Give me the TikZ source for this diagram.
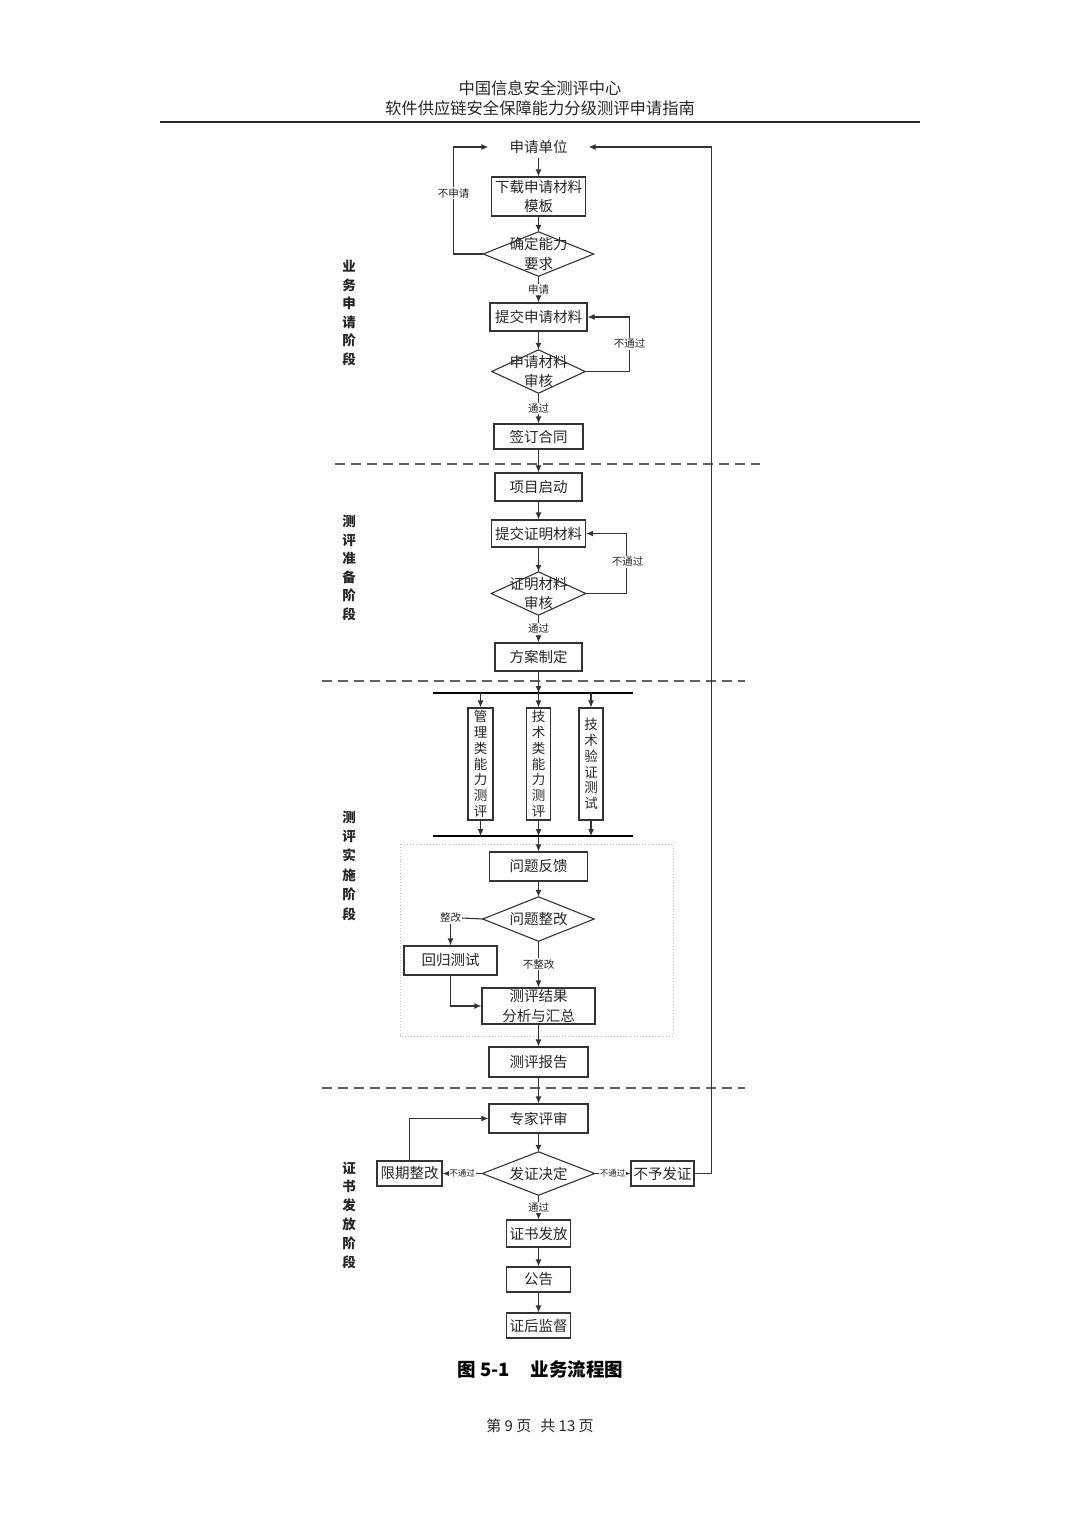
\documentclass[tikz,border=0pt]{standalone}
\usepackage{fontspec}
\setmainfont{Noto Sans CJK SC}
\usetikzlibrary{arrows.meta,calc}
\definecolor{linec}{HTML}{333333}
\definecolor{textc}{HTML}{262626}
\newcommand\flboxfont{\fontsize{14.5}{19.5}\selectfont}
\newcommand\flvfont{\fontsize{13.5}{15.8}\selectfont}
\newcommand\fllblfont{\fontsize{10.5}{12}\selectfont}
\newcommand\flsmallfont{\fontsize{8.5}{10}\selectfont}
\tikzset{
  flbox/.style={draw=linec, line width=1.1pt, inner sep=0pt, align=center, font=\flboxfont, text=textc},
  fldia/.style={inner sep=0pt, align=center, font=\flboxfont, text=textc},
  flvbox/.style={draw=linec, line width=1.1pt, inner sep=0pt, align=center, font=\flvfont, text=textc, minimum width=24pt, minimum height=112pt},
  flarr/.style={draw=linec, line width=1.1pt, -{Latex[length=7pt,width=6pt]}},
  flline/.style={draw=linec, line width=1.1pt},
  fllbl/.style={fill=white, inner sep=1pt, font=\fllblfont, text=textc},
  flsmall/.style={fill=white, inner sep=1pt, font=\flsmallfont, text=textc},
  flbar/.style={draw=black, line width=2.4pt},
  fldash/.style={draw=gray!75!black, line width=1.6pt, dash pattern=on 10pt off 6pt},
  flstage/.style={font=\fontsize{13.5}{18.5}\selectfont\bfseries, align=center, inner sep=0pt, text=textc},
}
\begin{document}
\begin{tikzpicture}[x=1pt,y=-1pt]
\fill[white] (0,0) rectangle (1080,1527);
\useasboundingbox (0,0) rectangle (1080,1527);

% header
\node[font=\fontsize{16.3}{18}\selectfont, text=textc] (h1) at (540,88) {中国信息安全测评中心};
\node[font=\fontsize{16.3}{18}\selectfont, text=textc] (h2) at (540,108) {软件供应链安全保障能力分级测评申请指南};
\draw[line width=1.5pt, black!85] (160,122) -- (920,122);

% stage labels
\node[flstage] (s1) at (349,313) {业\\务\\申\\请\\阶\\段};
\node[flstage] (s2) at (349,568) {测\\评\\准\\备\\阶\\段};
\node[flstage, font=\fontsize{13.5}{19.4}\selectfont\bfseries] (s3) at (349,865.5) {测\\评\\实\\施\\阶\\段};
\node[flstage, font=\fontsize{13.5}{18.8}\selectfont\bfseries] (s4) at (349,1215) {证\\书\\发\\放\\阶\\段};

% separators
\draw[fldash] (335,464) -- (760,464);
\draw[fldash] (322,681) -- (745,681);
\draw[fldash] (322,1088) -- (745,1088);

% stage 1
\node[fldia, minimum width=100pt, minimum height=22pt] (start) at (538.5,147) {申请单位};
\node[flbox, minimum width=94pt, minimum height=39pt] (b1) at (538.5,196.5) {下载申请材料\\模板};
\node[fldia, minimum width=110pt, minimum height=44pt] (d1) at (538.5,254) {确定能力\\要求};
\draw[flline] (d1.north) -- (d1.east) -- (d1.south) -- (d1.west) -- cycle;
\node[flbox, minimum width=97pt, minimum height=28pt] (b2) at (538.5,317) {提交申请材料};
\node[fldia, minimum width=93pt, minimum height=43pt] (d2) at (538.5,371.5) {申请材料\\审核};
\draw[flline] (d2.north) -- (d2.east) -- (d2.south) -- (d2.west) -- cycle;
\node[flbox, minimum width=89pt, minimum height=25pt] (b3) at (538.5,436.5) {签订合同};

\draw[flarr] (start.south) -- (b1.north);
\draw[flarr] (b1.south) -- (d1.north);
\draw[flarr] (d1.west) -- ++(-30,0) |- (start.west);
\node[fllbl] (l1) at (453.5,193) {不申请};
\draw[flarr] (d1.south) -- node[fllbl] (l2) {申请} (b2.north);
\draw[flarr] (b2.south) -- (d2.north);
\draw[flarr] (d2.east) -- ++(44,0) |- (b2.east);
\node[fllbl] (l3) at (629.5,344) {不通过};
\draw[flarr] (d2.south) -- node[fllbl] (l4) {通过} (b3.north);

% stage 2
\node[flbox, minimum width=87pt, minimum height=28pt] (b4) at (538.5,487) {项目启动};
\node[flbox, minimum width=94pt, minimum height=27pt] (b5) at (538.5,533.5) {提交证明材料};
\node[fldia, minimum width=94pt, minimum height=43pt] (d3) at (538.5,593.5) {证明材料\\审核};
\draw[flline] (d3.north) -- (d3.east) -- (d3.south) -- (d3.west) -- cycle;
\node[flbox, minimum width=87pt, minimum height=28pt] (b6) at (538.5,657) {方案制定};

\draw[flarr] (b3.south) -- (b4.north);
\draw[flarr] (b4.south) -- (b5.north);
\draw[flarr] (b5.south) -- (d3.north);
\draw[flarr] (d3.east) -- ++(41,0) |- (b5.east);
\node[fllbl] (l5) at (627.5,562) {不通过};
\draw[flarr] (d3.south) -- node[fllbl] (l6) {通过} (b6.north);

% stage 3
\coordinate (barTL) at (433,693);
\coordinate (barTR) at (633,693);
\coordinate (barBL) at (433,836);
\coordinate (barBR) at (633,836);
\node[flvbox, minimum width=25pt] (v1) at (480.5,764) {管\\理\\类\\能\\力\\测\\评};
\node[flvbox] (v2) at (538.5,764) {技\\术\\类\\能\\力\\测\\评};
\node[flvbox] (v3) at (591,764) {技\\术\\验\\证\\测\\试};
\draw[flarr] (b6.south) -- (b6.south |- barTL);
\draw[flbar] (barTL) -- (barTR);
\draw[flarr] (v1.north |- barTL) -- (v1.north);
\draw[flarr] (v2.north |- barTL) -- (v2.north);
\draw[flarr] (v3.north |- barTL) -- (v3.north);
\draw[flarr] (v1.south) -- (v1.south |- barBL);
\draw[flarr] (v2.south) -- (v2.south |- barBL);
\draw[flarr] (v3.south) -- (v3.south |- barBL);
\draw[flbar] (barBL) -- (barBR);

\draw[gray!45, dotted, line width=0.9pt] (400,844) rectangle (673,1036);

\node[flbox, minimum width=98pt, minimum height=29pt] (b7) at (538.5,866.5) {问题反馈};
\node[fldia, minimum width=111pt, minimum height=44pt] (d4) at (538.5,919) {问题整改};
\draw[flline] (d4.north) -- (d4.east) -- (d4.south) -- (d4.west) -- cycle;
\node[fllbl] (zg) at (450.5,918) {整改};
\node[flbox, minimum width=93pt, minimum height=29pt] (b8) at (450.5,960.5) {回归测试};
\node[flbox, minimum width=113pt, minimum height=36pt] (b9) at (538.5,1006) {测评结果\\分析与汇总};
\node[flbox, minimum width=99pt, minimum height=30pt] (b10) at (538.5,1062) {测评报告};

\draw[flarr] (b7.north |- barBL) -- (b7.north);
\draw[flarr] (b7.south) -- (d4.north);
\draw[flline] (d4.west) -- (zg.east);
\draw[flarr] (zg.south) -- (b8.north);
\draw[flarr] (b8.south) |- (b9.west);
\draw[flarr] (d4.south) -- node[fllbl] (l7) {不整改} (b9.north);
\draw[flarr] (b9.south) -- (b10.north);

% stage 4
\node[flbox, minimum width=99pt, minimum height=29pt] (b11) at (538.5,1118.5) {专家评审};
\node[fldia, minimum width=112pt, minimum height=43pt] (d5) at (538.5,1173.5) {发证决定};
\draw[flline] (d5.north) -- (d5.east) -- (d5.south) -- (d5.west) -- cycle;
\node[flbox, minimum width=65pt, minimum height=25pt] (b12) at (409.5,1173.5) {限期整改};
\node[flbox, minimum width=63pt, minimum height=25pt] (b13) at (662.5,1173.5) {不予发证};
\node[flbox, minimum width=64pt, minimum height=27pt] (b14) at (538.5,1233.5) {证书发放};
\node[flbox, minimum width=64pt, minimum height=25pt] (b15) at (538.5,1279.5) {公告};
\node[flbox, minimum width=64pt, minimum height=25pt] (b16) at (538.5,1325.5) {证后监督};

\draw[flarr] (b10.south) -- (b11.north);
\draw[flarr] (b11.south) -- (d5.north);
\draw[flarr] (d5.west) -- node[flsmall] (l8) {不通过} (b12.east);
\draw[flarr] (b12.north) |- (b11.west);
\draw[flarr] (d5.east) -- node[flsmall] (l9) {不通过} (b13.west);
\draw[flarr] (b13.east) -- ++(17,0) |- (start.east);
\draw[flarr] (d5.south) -- node[fllbl] (l10) {通过} (b14.north);
\draw[flarr] (b14.south) -- (b15.north);
\draw[flarr] (b15.south) -- (b16.north);

% caption and footer
\node[font=\fontsize{18.5}{20}\selectfont\bfseries, text=black] (cap) at (540.5,1369) {图 5-1\hspace{1.1em}业务流程图};
\node[font=\fontsize{15}{17}\selectfont, text=textc] (foot) at (540,1426) {第 9 页\hspace{0.6em}共 13 页};
\end{tikzpicture}
\end{document}
